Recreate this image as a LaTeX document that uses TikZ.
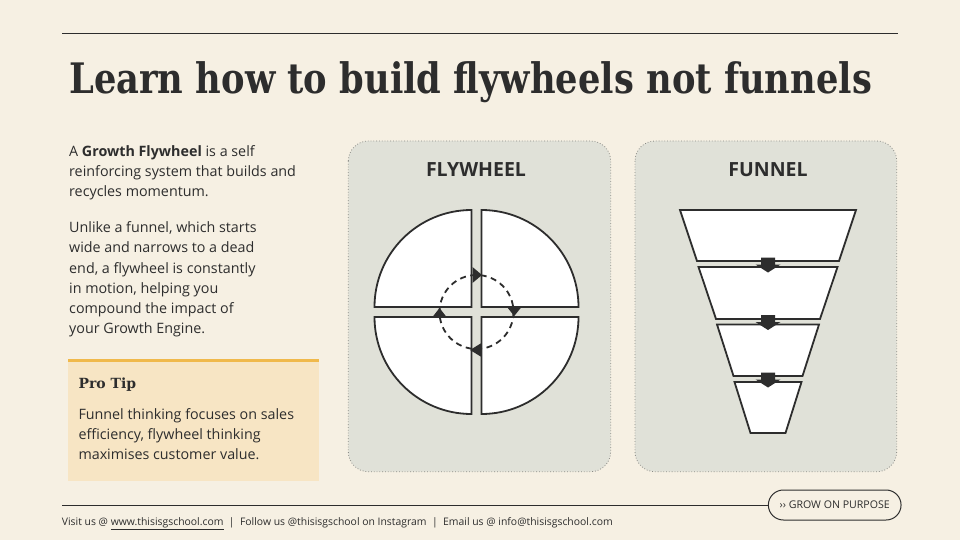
\documentclass[tikz,border=0pt]{standalone}
\usepackage{fontspec}
\setmainfont{Open Sans}
\newfontfamily\titlefont[FakeStretch=0.84]{DejaVu Serif}
\newfontfamily\tipfont{DejaVu Serif}
\newfontfamily\bodyfont{Open Sans}
\usetikzlibrary{calc}
\definecolor{bg}{HTML}{F6F0E3}
\definecolor{ink}{HTML}{2D2D2D}
\definecolor{panel}{HTML}{E0E1D8}
\definecolor{tipfill}{HTML}{F7E5C4}
\definecolor{tipbar}{HTML}{F0B94B}
\definecolor{dotgray}{HTML}{8A8A85}
\tikzset{
  panelbox/.style={fill=panel, draw=dotgray, line width=0.8pt, dotted, rounded corners=20pt},
  quad/.style={fill=white, draw=ink, line width=1.8pt, line join=miter},
  trap/.style={fill=white, draw=ink, line width=1.8pt, line join=miter},
  tri/.style={fill=ink, draw=none},
  body/.style={anchor=base west, inner sep=0pt, align=left, text=ink, font=\bodyfont\fontsize{14.3}{20.2}\selectfont},
}
\begin{document}
\begin{tikzpicture}[x=1pt, y=-1pt]
\useasboundingbox (0,0) rectangle (960,540);
\fill[bg] (0,0) rectangle (960,540);

% top rule
\draw[ink, line width=1pt] (62,33.3) -- (898,33.3);

% title
\node[anchor=base west, inner sep=0pt, text=ink, font=\titlefont\bfseries\fontsize{42}{46}\selectfont] (title) at (69,94) {Learn how to build flywheels not funnels};

% left text (anchor = baseline of last line)
\node[body] (p1) at (69,196.4) {A \textbf{Growth Flywheel} is a self\\reinforcing system that builds and\\recycles momentum.};
\node[body] (p2) at (69,333.7) {Unlike a funnel, which starts\\wide and narrows to a dead\\end, a flywheel is constantly\\in motion, helping you\\compound the impact of\\your Growth Engine.};

% pro tip box
\fill[tipfill] (68.3,358.7) rectangle (319.3,480.7);
\fill[tipbar] (68.3,358.7) rectangle (319.3,362.3);
\node[anchor=base west, inner sep=0pt, text=ink, font=\tipfont\bfseries\fontsize{14}{16}\selectfont] (tiptitle) at (78.3,388.3) {Pro Tip};
\node[body] (tipbody) at (78.3,459.7) {Funnel thinking focuses on sales\\efficiency, flywheel thinking\\maximises customer value.};

% panels
\draw[panelbox] (348.3,141) rectangle (610.7,471.7);
\draw[panelbox] (635,141) rectangle (896.7,471.7);
\node[anchor=base, inner sep=0pt, text=ink, font=\bodyfont\bfseries\fontsize{19.5}{22}\selectfont] (flyhead) at (476,176.7) {FLYWHEEL};
\node[anchor=base, inner sep=0pt, text=ink, font=\bodyfont\bfseries\fontsize{19.5}{22}\selectfont] (funhead) at (768,176.7) {FUNNEL};

% flywheel quadrants
\coordinate (C) at (476.5,312);
\draw[quad] (471.5,307) -- ++(-97,0) arc[start angle=180, end angle=270, radius=97] -- cycle;
\draw[quad] (481.5,307) -- ++(0,-97) arc[start angle=270, end angle=360, radius=97] -- cycle;
\draw[quad] (481.5,317) -- ++(97,0) arc[start angle=0, end angle=90, radius=97] -- cycle;
\draw[quad] (471.5,317) -- ++(0,97) arc[start angle=90, end angle=180, radius=97] -- cycle;
% dashed loop
\draw[ink, line width=1.8pt, dash pattern=on 6pt off 4.5pt] (C) circle[radius=37];
% arrowheads (clockwise)
\fill[tri] (472.5,267) -- (482,275) -- (472.5,283) -- cycle;
\fill[tri] (507,307) -- (521.5,307) -- (514.25,316) -- cycle;
\fill[tri] (481.5,343) -- (470,350) -- (481.5,357) -- cycle;
\fill[tri] (432.5,317) -- (446.5,317) -- (439.5,308) -- cycle;

% funnel
\draw[trap] (680,210) -- (856,210) -- (839,261) -- (697,261) -- cycle;
\draw[trap] (698.5,267) -- (837.5,267) -- (820,319) -- (716,319) -- cycle;
\draw[trap] (717,324.5) -- (819,324.5) -- (802.5,376) -- (733.5,376) -- cycle;
\draw[trap] (734.5,382) -- (801.5,382) -- (785.5,433) -- (750.5,433) -- cycle;
\foreach \y in {257.5,315,372.5}{
  \fill[tri] (761,\y) -- (775,\y) -- (775,\y+7) -- (780.5,\y+7) -- (768,\y+15) -- (755.5,\y+7) -- (761,\y+7) -- cycle;
}

% footer
\node[draw=ink, line width=1pt, rounded corners=15pt, fill=bg, minimum width=132.7pt, minimum height=30pt, inner sep=0pt, text=ink, font=\bodyfont\fontsize{10.6}{12}\selectfont] (pill) at (834.7,505) {›› GROW ON PURPOSE};
\coordinate (rulestart) at (62,505);
\draw[ink, line width=1pt] (rulestart) -- (pill.west);
\node[anchor=base west, inner sep=0pt, text=ink, font=\bodyfont\fontsize{10.4}{12}\selectfont] (foot) at (61.7,525.5) {Visit us @ \underline{www.thisisgschool.com}\ \ |\ \ Follow us @thisisgschool on Instagram\ \ |\ \ Email us @ info@thisisgschool.com};
\end{tikzpicture}
\end{document}
